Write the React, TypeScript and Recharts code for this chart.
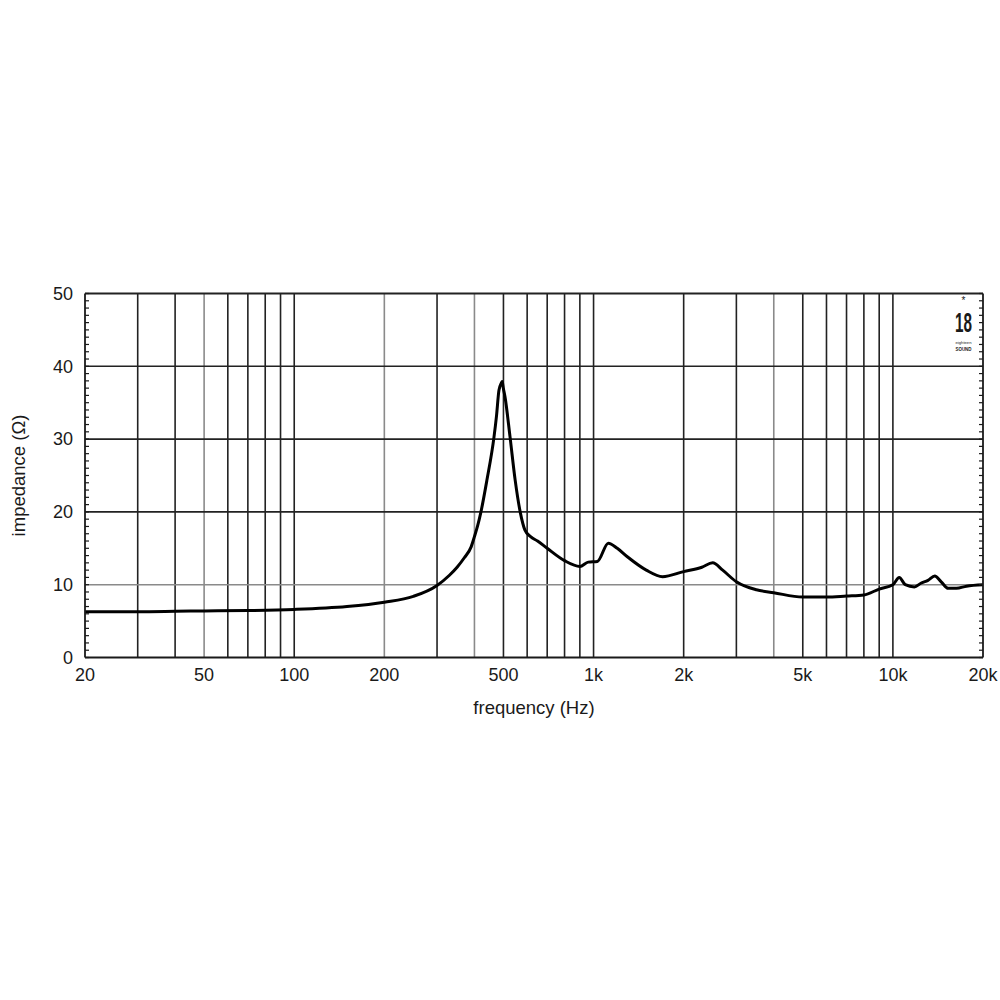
import React from 'react';
import { LineChart, Line, XAxis, YAxis, ReferenceLine } from 'recharts';

const freqs = [20, 30, 40, 50, 70, 100, 150, 200, 250, 300, 330, 350, 370, 390, 400, 410, 420, 440, 465, 474, 483, 492, 495, 500, 506, 526, 547, 570, 590, 616, 650, 700, 800, 900, 960, 1030, 1120, 1200, 1300, 1500, 1700, 2000, 2300, 2500, 2700, 3000, 3500, 4000, 5000, 6000, 7000, 8000, 9000, 10000, 10500, 11000, 11800, 12400, 13100, 13800, 14500, 15300, 16300, 17600, 20000];
const impedance = [6.3, 6.3, 6.35, 6.4, 6.45, 6.6, 7.0, 7.6, 8.4, 9.9, 11.3, 12.4, 13.7, 15.2, 16.6, 18.1, 19.9, 24.3, 30.3, 33.2, 36.7, 37.7, 37.9, 36.9, 35.8, 30.3, 24.4, 19.8, 17.5, 16.6, 16.0, 15.0, 13.3, 12.5, 13.1, 13.2, 15.7, 15.0, 13.8, 12.0, 11.1, 11.8, 12.4, 13.0, 12.0, 10.4, 9.3, 8.9, 8.3, 8.3, 8.45, 8.6, 9.4, 10.0, 11.0, 10.0, 9.7, 10.2, 10.6, 11.2, 10.4, 9.5, 9.5, 9.8, 10.0];

const xTicks = [20, 50, 100, 200, 500, 1000, 2000, 5000, 10000, 20000];
const xTickLabels = ['20', '50', '100', '200', '500', '1k', '2k', '5k', '10k', '20k'];
const yTicks = [0, 10, 20, 30, 40, 50];
const minorYTicks = Array.from({ length: 51 }, (_, i) => i);
const gridFreqs = [30, 40, 50, 60, 70, 80, 90, 100, 200, 300, 400, 500, 600, 700, 800, 900, 1000, 2000, 3000, 4000, 5000, 6000, 7000, 8000, 9000, 10000];
const lightGridFreqs = [50, 200, 400, 4000];
const gridZ = [10, 20, 30, 40, 50];
const lightGridZ = [10];

const data = freqs.map((f, i) => ({ f, z: impedance[i] }));

const font = '"Liberation Sans", Arial, Helvetica, sans-serif';
const ink = '#1a1a1a';

const EmptyTick = () => <g />;

export default function App() {
  return (
    <div style={{ position: 'absolute', left: 0, top: 0, width: 1000, height: 1000, background: '#fff' }}>
      <LineChart
        width={1000}
        height={1000}
        data={data}
        margin={{ top: 293.5, right: 17, left: 0, bottom: 312.5 }}
      >
        <XAxis
          dataKey="f"
          type="number"
          scale="log"
          domain={[20, 20000]}
          allowDataOverflow
          ticks={xTicks}
          tickFormatter={(v: number) => xTickLabels[xTicks.indexOf(v)] ?? String(v)}
          tickLine={false}
          tickSize={0}
          tickMargin={11}
          height={30}
          axisLine={{ stroke: ink, strokeWidth: 1.8 }}
          tick={{ fill: ink, fontSize: 18, fontFamily: font }}
          label={{ value: 'frequency (Hz)', position: 'bottom', offset: 13, fill: ink, fontSize: 18.5, fontFamily: font }}
        />
        <YAxis
          yAxisId="main"
          type="number"
          domain={[0, 50]}
          ticks={yTicks}
          width={85}
          tickLine={false}
          tickSize={0}
          tickMargin={12}
          axisLine={{ stroke: ink, strokeWidth: 1.8 }}
          tick={{ fill: ink, fontSize: 18, fontFamily: font }}
          label={{ value: 'impedance (Ω)', angle: -90, position: 'insideLeft', offset: 18, fill: ink, fontSize: 18.5, fontFamily: font, style: { textAnchor: 'middle' } }}
        />
        <YAxis
          yAxisId="minorLeft"
          type="number"
          domain={[0, 50]}
          allowDataOverflow
          ticks={minorYTicks}
          interval={0}
          width={4}
          mirror
          hide={false}
          orientation="left"
          axisLine={false}
          tickSize={4}
          tickLine={{ stroke: ink, strokeWidth: 1.2 }}
          tick={<EmptyTick />}
        />
        <YAxis
          yAxisId="minorRight"
          type="number"
          domain={[0, 50]}
          allowDataOverflow
          ticks={minorYTicks}
          interval={0}
          width={4}
          mirror
          hide={false}
          orientation="right"
          axisLine={{ stroke: ink, strokeWidth: 1.8 }}
          tickSize={4}
          tickLine={{ stroke: ink, strokeWidth: 1.2 }}
          tick={<EmptyTick />}
        />
        {gridFreqs.map((f) => (
          <ReferenceLine
            key={'vx' + f}
            x={f}
            yAxisId="main"
            stroke={lightGridFreqs.includes(f) ? '#8a8a8a' : '#222'}
            strokeWidth={1.6}
            ifOverflow="hidden"
          />
        ))}
        {gridZ.map((z) => (
          <ReferenceLine
            key={'hz' + z}
            y={z}
            yAxisId="main"
            stroke={lightGridZ.includes(z) ? '#8a8a8a' : '#222'}
            strokeWidth={z === 50 ? 1.8 : 1.6}
          />
        ))}
        <Line
          yAxisId="main"
          type="monotone"
          dataKey="z"
          stroke="#000"
          strokeWidth={3}
          dot={false}
          isAnimationActive={false}
        />
      </LineChart>
      <svg
        width={56}
        height={72}
        style={{ position: 'absolute', left: 936, top: 292, overflow: 'visible' }}
      >
        <text x={27.5} y={12} textAnchor="middle" fontSize={10} fontFamily={font} fill={ink}>*</text>
        <text x={27.5} y={40} textAnchor="middle" fontSize={27} fontWeight="bold" fontFamily={font} fill={ink} textLength={17} lengthAdjust="spacingAndGlyphs">18</text>
        <text x={27.5} y={52} textAnchor="middle" fontSize={4} fontFamily={font} fill={ink} textLength={16} lengthAdjust="spacingAndGlyphs">eighteen</text>
        <text x={27.5} y={59} textAnchor="middle" fontSize={6} fontWeight="bold" fontFamily={font} fill={ink} textLength={16} lengthAdjust="spacingAndGlyphs">SOUND</text>
      </svg>
    </div>
  );
}
